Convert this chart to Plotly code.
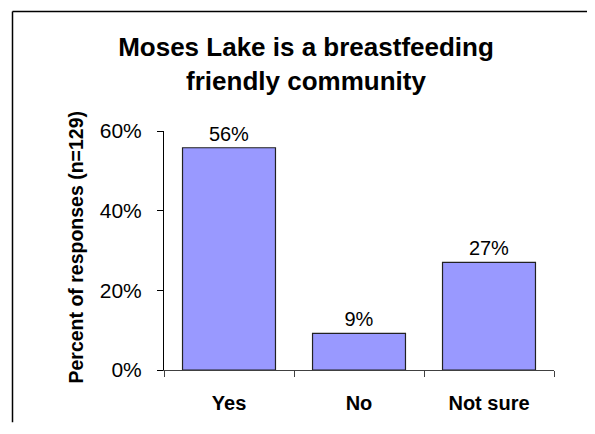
import plotly.graph_objects as go

categories = ['Yes', 'No', 'Not sure']
percent = [55.8, 9.2, 27.0]
bar_labels = ['56%', '9%', '27%']
y_ticks = [0, 20, 40, 60]
y_ticktext = ['0%', '20%', '40%', '60%']

fontname = "Arial, Liberation Sans, sans-serif"

# the page body adds an 8px margin on every side; keep the figure inside the window
off = 8
W, H = 595 - 2 * off, 434 - 2 * off

fig = go.Figure()
fig.add_trace(go.Bar(x=categories, y=percent, text=bar_labels, textposition='outside',
                     textfont=dict(size=20, color='black'), cliponaxis=False,
                     marker=dict(color='#9999FF', line=dict(color='#222222', width=1.2)),
                     width=0.715))

fig.update_layout(
    width=W, height=H, autosize=False,
    margin=dict(l=164 - off, r=W - (554 - off), t=131 - off, b=H - (373 - off)),
    plot_bgcolor='white', paper_bgcolor='white',
    font=dict(family=fontname, color='black'),
    showlegend=False,
    title=dict(text='<b>Moses Lake is a breastfeeding<br>friendly community</b>',
               x=(306 - off) / W, xanchor='center', y=1 - (56 - off) / H, yanchor='middle',
               xref='container', yref='container', font=dict(size=26, color='black')),
)
fig.update_xaxes(type='category', tickson='boundaries', ticks='outside', ticklen=6,
                 tickcolor='#404040', showline=True, linecolor='#404040', linewidth=1,
                 tickfont=dict(size=20, color='black', weight='bold'), ticklabelstandoff=15,
                 showgrid=False, zeroline=False)
fig.update_yaxes(range=[0, 60], tickvals=y_ticks, ticktext=y_ticktext, ticks='outside',
                 ticklen=6, tickcolor='black', showline=True, linecolor='black', linewidth=1,
                 tickfont=dict(size=21, color='black'), ticklabelstandoff=11,
                 showgrid=False, zeroline=False)

# y axis title as a rotated annotation
fig.add_annotation(text='<b>Percent of responses (n=129)</b>', textangle=-90,
                   xref='paper', yref='paper', x=(76 - 164) / 390, y=(373 - 249) / 242,
                   xanchor='center', yanchor='middle', showarrow=False,
                   font=dict(size=19.5, color='black'))

# chart frame: only the left and top edges fall inside the picture
left = (12.5 - 164) / 390
right = (W + off - 164) / 390
top = (373 - 10) / 242
bottom = (373 - (H + off)) / 242
fig.add_shape(type='line', xref='paper', yref='paper',
              x0=left, x1=left, y0=bottom, y1=top,
              line=dict(color='black', width=1.5))
fig.add_shape(type='line', xref='paper', yref='paper',
              x0=left, x1=right, y0=top, y1=top,
              line=dict(color='black', width=1.5))

fig.write_html("out.html", config={'displayModeBar': False})
